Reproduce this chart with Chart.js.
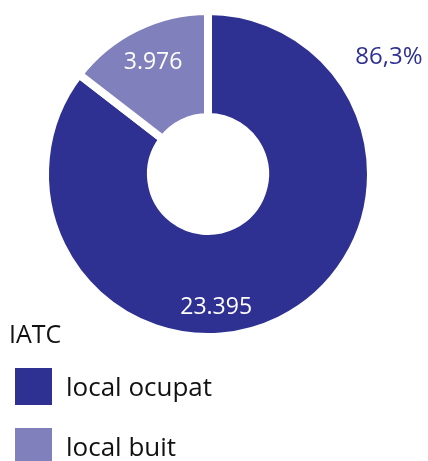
<!DOCTYPE html>
<html>
<head>
<meta charset="utf-8">
<script src="https://cdn.jsdelivr.net/npm/chart.js@4"></script>
<style>
  html, body { margin: 0; padding: 0; background: #fff; }
  #wrap { position: relative; width: 428px; height: 461px; overflow: hidden; }
  #legend { position: absolute; left: 9px; top: 319px; font-family: 'Open Sans', sans-serif; color: #111; }
  #legend .title { font-size: 25px; line-height: 28px; }
  #legend ul { list-style: none; margin: 21px 0 0 0; padding: 0; }
  #legend li { display: flex; align-items: center; height: 37px; margin-bottom: 23px; }
  #legend .box { width: 37px; height: 37px; margin-left: 6px; margin-right: 14px; }
  #legend .txt { font-size: 26px; line-height: 37px; }
</style>
</head>
<body>
<div id="wrap">
  <canvas id="donut"></canvas>
  <div id="legend"></div>
</div>
<script>
// Dades
const legendTitle = 'IATC';
const categories = ['local ocupat', 'local buit'];
const values = [23395, 3976];
const shareLabels = ['86,3%', null]; // percentatge tal com surt a l'original
const colors = ['#2e3192', '#8080bc'];

// format 23.395
const fmt = v => String(v).replace(/\B(?=(\d{3})+(?!\d))/g, '.');

// Etiquetes sobre els arcs (angle des de dalt, en graus, i distància relativa al radi exterior)
const valueLabelPlacement = [
    { angle: 176.5, r: 0.82 },
    { angle: null, r: 0.765 } // null = angle mig de l'arc
];
const shareLabelPlacement = [
    { angle: 57.1, r: 1.322 },
    null
];

const arcLabels = {
    id: 'arcLabels',
    afterDatasetsDraw(chart) {
        const ctx = chart.ctx;
        const meta = chart.getDatasetMeta(0);
        ctx.save();
        ctx.textAlign = 'center';
        ctx.textBaseline = 'middle';
        meta.data.forEach((arc, i) => {
            const p = arc.getProps(['x', 'y', 'startAngle', 'endAngle', 'outerRadius'], true);
            const pos = (place) => {
                const a = place.angle === null
                    ? (p.startAngle + p.endAngle) / 2
                    : (place.angle - 90) * Math.PI / 180;
                return [p.x + Math.cos(a) * p.outerRadius * place.r, p.y + Math.sin(a) * p.outerRadius * place.r];
            };
            const vp = pos(valueLabelPlacement[i]);
            ctx.font = '23px "Open Sans"';
            ctx.fillStyle = '#ffffff';
            ctx.fillText(fmt(values[i]), vp[0], vp[1]);
            if (shareLabels[i] && shareLabelPlacement[i]) {
                const sp = pos(shareLabelPlacement[i]);
                ctx.font = '24px "Open Sans"';
                ctx.fillStyle = colors[0];
                ctx.fillText(shareLabels[i], sp[0], sp[1]);
            }
        });
        ctx.restore();
    }
};

// Llegenda en HTML
const htmlLegend = {
    id: 'htmlLegend',
    afterUpdate(chart) {
        const el = document.getElementById('legend');
        const items = chart.options.plugins.legend.labels.generateLabels(chart);
        el.innerHTML = '<div class="title">' + legendTitle + '</div><ul>' +
            items.map(it => '<li><span class="box" style="background:' + it.fillStyle + '"></span><span class="txt">' + it.text + '</span></li>').join('') +
            '</ul>';
    }
};

const ctx = document.getElementById('donut').getContext('2d');
const donut = new Chart(ctx, {
    type: 'doughnut',
    data: {
        labels: categories,
        datasets: [{
            data: values,
            backgroundColor: colors,
            borderColor: '#ffffff',
            borderWidth: 8,
            hoverOffset: 0
        }]
    },
    options: {
        responsive: true,
        maintainAspectRatio: false,
        animation: false,
        cutout: '35%',
        layout: { padding: { top: 7, bottom: 120, left: 0, right: 12 } },
        plugins: {
            legend: { display: false },
            tooltip: { enabled: false }
        }
    },
    plugins: [arcLabels, htmlLegend]
});
</script>
</body>
</html>
